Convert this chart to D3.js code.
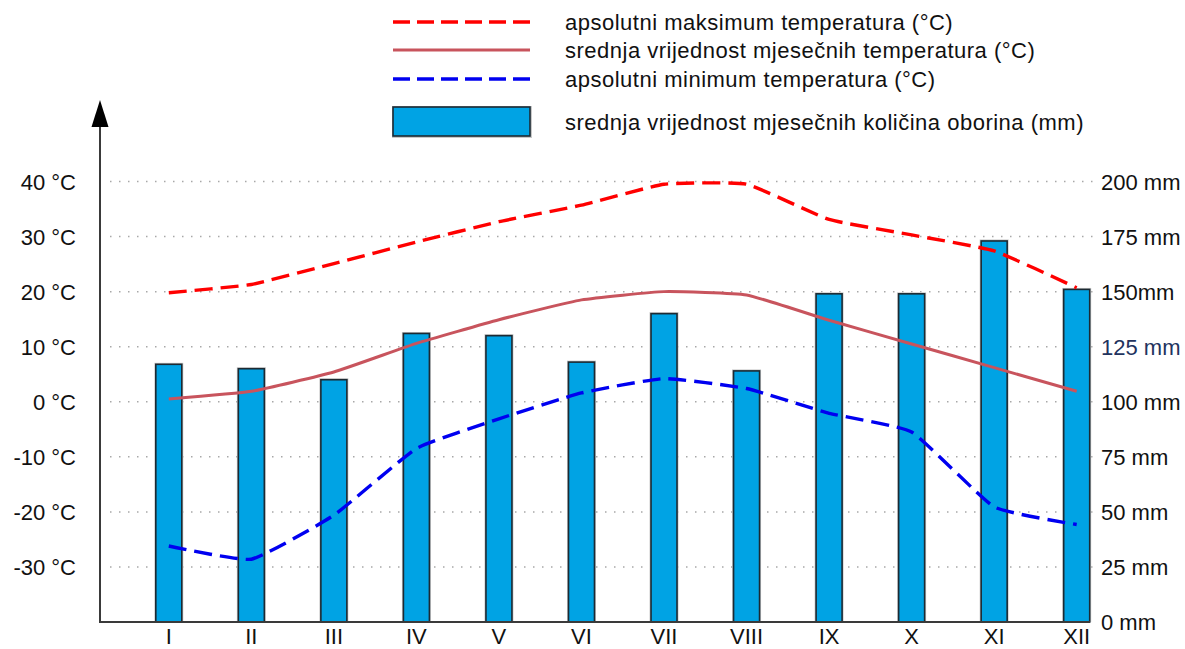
<!DOCTYPE html>
<html>
<head>
<meta charset="utf-8">
<script src="https://cdn.jsdelivr.net/npm/d3@7"></script>
<style>
  html, body { margin: 0; padding: 0; background: #fff; }
  svg { display: block; font-family: "Liberation Sans", Arial, sans-serif; }
</style>
</head>
<body>
<svg id="chart" width="1185" height="649"></svg>
<script>
// Monthly climate data
const months = ["I", "II", "III", "IV", "V", "VI", "VII", "VIII", "IX", "X", "XI", "XII"];
const precipitation = [117, 115, 110, 131, 130, 118, 140, 114, 149, 149, 173, 151];   // mm
const tempMax  = [19.8, 21.3, 25.1, 29.0, 32.7, 35.7, 39.5, 39.5, 33.1, 30.3, 27.4, 20.7];
const tempMean = [0.5, 1.9, 5.4, 10.6, 14.9, 18.5, 20.0, 19.4, 14.8, 10.5, 6.2, 1.9];
const tempMin  = [-26.2, -28.6, -20.6, -8.5, -3.1, 1.6, 4.2, 2.4, -2.1, -5.5, -19.1, -22.3];

const tempTicks = [40, 30, 20, 10, 0, -10, -20, -30];
const tempTickLabels = ["40 °C", "30 °C", "20 °C", "10 °C", "0 °C", "-10 °C", "-20 °C", "-30 °C"];
const precipTicks = [200, 175, 150, 125, 100, 75, 50, 25, 0];
const precipTickLabels = ["200 mm", "175 mm", "150mm", "125 mm", "100 mm", "75 mm", "50 mm", "25 mm", "0 mm"];

const legendLabels = [
  "apsolutni maksimum temperatura (°C)",
  "srednja vrijednost mjesečnih temperatura (°C)",
  "apsolutni minimum temperatura (°C)",
  "srednja vrijednost mjesečnih količina oborina (mm)"
];

const svg = d3.select("#chart");

const axisX0 = 100, axisX1 = 1090, axisY = 622, plotTop = 181.5;

const x = d3.scalePoint().domain(months).range([168.8, 1076.7]);
const yT = d3.scaleLinear().domain([-40, 40]).range([axisY, plotTop]);
const yP = d3.scaleLinear().domain([0, 200]).range([axisY, plotTop]);

const COL_MAX = "#ff0000", COL_MEAN = "#c8545d", COL_MIN = "#0000f0";
const BAR_FILL = "#00a3e4", BAR_STROKE = "#1c2a33";
const barW = 26;

// dotted horizontal grid
svg.append("g")
  .selectAll("line")
  .data(tempTicks)
  .join("line")
  .attr("x1", 110).attr("x2", 1093)
  .attr("y1", d => yT(d)).attr("y2", d => yT(d))
  .attr("stroke", "#a8a8a8")
  .attr("stroke-width", 1.5)
  .attr("stroke-dasharray", "1.5,7.5");

// precipitation bars
const bars = svg.append("g");
bars.selectAll("rect.halo")
  .data(precipitation)
  .join("rect")
  .attr("class", "halo")
  .attr("x", (d, i) => x(months[i]) - barW / 2 - 1.5)
  .attr("y", d => yP(d) - 1.5)
  .attr("width", barW + 3)
  .attr("height", d => axisY - yP(d) + 1.5)
  .attr("fill", "#c9c9c9");
bars.selectAll("rect.bar")
  .data(precipitation)
  .join("rect")
  .attr("class", "bar")
  .attr("x", (d, i) => x(months[i]) - barW / 2)
  .attr("y", d => yP(d))
  .attr("width", barW)
  .attr("height", d => axisY - yP(d))
  .attr("fill", BAR_FILL)
  .attr("stroke", BAR_STROKE)
  .attr("stroke-width", 1.6);

// temperature lines (lightly rounded joints)
const line = d3.line()
  .x((d, i) => x(months[i]))
  .y(d => yT(d))
  .curve(d3.curveCardinal.tension(0.6));

svg.append("path").datum(tempMean)
  .attr("d", line).attr("fill", "none")
  .attr("stroke", COL_MEAN).attr("stroke-width", 3);
svg.append("path").datum(tempMax)
  .attr("d", line).attr("fill", "none")
  .attr("stroke", COL_MAX).attr("stroke-width", 3.4)
  .attr("stroke-dasharray", "18,8");
svg.append("path").datum(tempMin)
  .attr("d", line).attr("fill", "none")
  .attr("stroke", COL_MIN).attr("stroke-width", 3.4)
  .attr("stroke-dasharray", "18,8");

// axes
svg.append("line")
  .attr("x1", axisX0).attr("x2", axisX0)
  .attr("y1", 126).attr("y2", axisY + 1)
  .attr("stroke", "#3a3a3a").attr("stroke-width", 2);
svg.append("line")
  .attr("x1", axisX0 - 1).attr("x2", axisX1)
  .attr("y1", axisY).attr("y2", axisY)
  .attr("stroke", "#3a3a3a").attr("stroke-width", 2);
svg.append("path")
  .attr("d", `M${axisX0},100 L${axisX0 - 8.5},127 L${axisX0 + 8.5},127 Z`)
  .attr("fill", "#000");

// left temperature labels
svg.append("g")
  .selectAll("text")
  .data(tempTicks)
  .join("text")
  .attr("x", 76)
  .attr("y", d => yT(d) + 8.3)
  .attr("text-anchor", "end")
  .attr("font-size", 22)
  .attr("fill", "#111")
  .text((d, i) => tempTickLabels[i]);

// right precipitation labels
svg.append("g")
  .selectAll("text")
  .data(precipTicks)
  .join("text")
  .attr("x", 1101)
  .attr("y", d => yP(d) + 8.3)
  .attr("font-size", 22)
  .attr("fill", d => d === 125 ? "#22335e" : "#111")
  .text((d, i) => precipTickLabels[i]);

// month labels
svg.append("g")
  .selectAll("text")
  .data(months)
  .join("text")
  .attr("x", d => x(d))
  .attr("y", 644)
  .attr("text-anchor", "middle")
  .attr("font-size", 22)
  .attr("fill", "#111")
  .text(d => d);

// legend
const lg = svg.append("g");
const lx0 = 393, lx1 = 530, ltx = 565;
const rowsY = [22, 50, 79];
lg.append("line").attr("x1", lx0).attr("x2", lx1).attr("y1", rowsY[0]).attr("y2", rowsY[0])
  .attr("stroke", COL_MAX).attr("stroke-width", 3.4).attr("stroke-dasharray", "17,7");
lg.append("line").attr("x1", lx0).attr("x2", lx1).attr("y1", rowsY[1]).attr("y2", rowsY[1])
  .attr("stroke", COL_MEAN).attr("stroke-width", 3);
lg.append("line").attr("x1", lx0).attr("x2", lx1).attr("y1", rowsY[2]).attr("y2", rowsY[2])
  .attr("stroke", COL_MIN).attr("stroke-width", 3.4).attr("stroke-dasharray", "17,7");
lg.append("rect").attr("x", lx0 - 1).attr("y", 106).attr("width", lx1 - lx0 + 3).attr("height", 32)
  .attr("fill", "#c9c9c9");
lg.append("rect").attr("x", lx0).attr("y", 107).attr("width", lx1 - lx0).attr("height", 29)
  .attr("fill", BAR_FILL).attr("stroke", BAR_STROKE).attr("stroke-width", 1.6);

lg.selectAll("text")
  .data(legendLabels)
  .join("text")
  .attr("x", ltx)
  .attr("y", (d, i) => [30, 58, 87, 130][i])
  .attr("font-size", 22)
  .attr("letter-spacing", 0.5)
  .attr("fill", "#111")
  .text(d => d);
</script>
</body>
</html>
